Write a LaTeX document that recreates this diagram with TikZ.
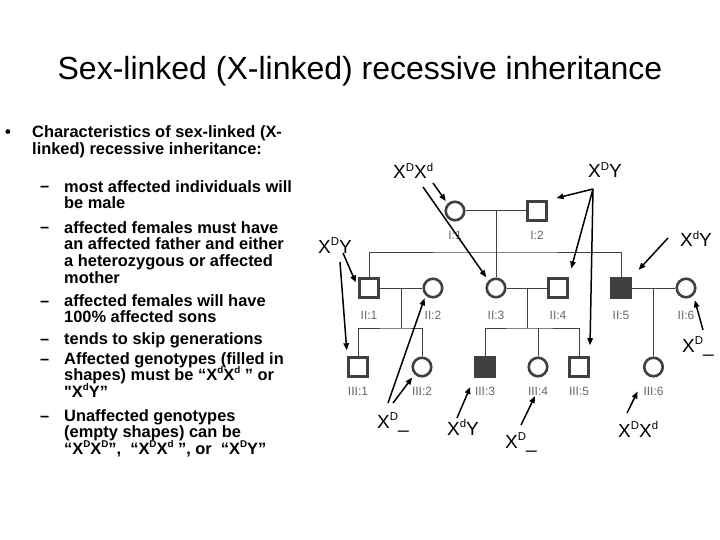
\documentclass[tikz,border=0pt]{standalone}
\usepackage{fontspec}
\setmainfont{Liberation Sans}
\newfontfamily\qfont{Liberation Sans}[Ligatures=Common]
\usepackage{tikz}
\usetikzlibrary{positioning, arrows.meta, calc}

% superscript allele letter
\newcommand{\gsup}[1]{\raisebox{0.42em}{\scalebox{0.6}{#1}}}
\newcommand{\bodyfont}{\fontsize{16.4}{16.8}\selectfont\bfseries\lineskiplimit=-100pt\relax}

\begin{document}
\begin{tikzpicture}[
    x=1pt, y=-1pt,
    >={Triangle[length=7pt, width=5.5pt]},
    ink/.style={draw=black!75, line width=2.6pt},
    male/.style={ink, rectangle, minimum size=19pt, inner sep=0pt},
    fem/.style={ink, circle, minimum size=18.5pt, inner sep=0pt},
    aff/.style={male, fill=black!75},
    pline/.style={draw=black!75, line width=1pt},
    plab/.style={font=\fontsize{12}{12}\selectfont, text=black!60, inner sep=0pt},
    geno/.style={font=\fontsize{19}{19}\selectfont, inner sep=0pt, anchor=base west},
    arr/.style={->, line width=1.5pt, black},
    title/.style={font=\fontsize{32}{32}\selectfont, inner sep=0pt},
    body/.style={font=\bodyfont, inner sep=0pt, align=left, anchor=base west},
]
\path[fill=white, use as bounding box] (0,0) rectangle (720,540);

% Title
\node[title, anchor=base] (ttl) at (360,80) {Sex-linked (X-linked) recessive inheritance};

% Bullet text (placed by the baseline of the last line)
\node[body] (bul) at (5,138) {•};
\node[body] (chr) at (32,154.8) {Characteristics of sex-linked (X-\\linked) recessive inheritance:};

\node[body] (d1) at (40,192) {–};
\node[body] (m1) at (64,208.8) {most affected individuals will\\be male};
\node[body] (d2) at (40,233) {–};
\node[body] (m2) at (64,283.4) {affected females must have\\an affected father and either\\a heterozygous or affected\\mother};
\node[body] (d3) at (40,306) {–};
\node[body] (m3) at (64,322.8) {affected females will have\\100\% affected sons};
\node[body] (d4) at (40,344) {–};
\node[body] (m4) at (64,344) {tends to skip generations};
\node[body] (d5) at (40,364) {–};
\node[body] (m5) at (64,397.6) {Affected genotypes (filled in\\shapes) must be “X\gsup{d}X\gsup{d} ” or\\{\qfont"}X\gsup{d}Y”};
\node[body] (d6) at (40,421) {–};
\node[body] (m6) at (64,454.6) {Unaffected genotypes\\(empty shapes) can be\\“X\gsup{D}X\gsup{D}”,\ \ “X\gsup{D}X\gsup{d} ”, or\ \ “X\gsup{D}Y”};

% Generation I
\node[fem] (i1) at (455,211) {};
\node[male] (i2) at (537,211) {};

% Generation II
\node[male] (ii1) at (369,288) {};
\node[fem] (ii2) at (433,288) {};
\node[fem] (ii3) at (496,288) {};
\node[male] (ii4) at (558,288) {};
\node[aff] (ii5) at (621,288) {};
\node[fem] (ii6) at (686,288) {};

% Generation III
\node[male] (iii1) at (358,367) {};
\node[fem] (iii2) at (422,367) {};
\node[aff] (iii3) at (485,367) {};
\node[fem] (iii4) at (538,367) {};
\node[male] (iii5) at (579,367) {};
\node[fem] (iii6) at ($(ii5)!0.5!(ii6) + (0,79)$) {};

% Pedigree lines
\draw[pline] (i1) -- (i2);
\draw[pline] ($(i1)!0.5!(i2)$) -- (ii3);
\coordinate (sib1) at (496,252);
\draw[pline] (ii1) |- (sib1) -| (ii5);

\draw[pline] (ii1) -- (ii2);
\draw[pline] ($(ii1)!0.5!(ii2)$) -- ++(0,40) coordinate (sib2);
\draw[pline] (iii1) |- (sib2) -| (iii2);

\draw[pline] (ii3) -- (ii4);
\draw[pline] ($(ii3)!0.5!(ii4)$) -- ++(0,40) coordinate (sib3);
\draw[pline] (iii3) |- (sib3) -| (iii5);
\draw[pline] (iii4) -- (iii4 |- sib3);

\draw[pline] (ii5) -- (ii6);
\draw[pline] ($(ii5)!0.5!(ii6)$) -- (iii6);

% Individual labels
\node[plab, below=9.5pt of i1] (li1) {I:1};
\node[plab, below=9.5pt of i2] (li2) {I:2};
\foreach \n/\t in {ii1/II:1, ii2/II:2, ii3/II:3, ii4/II:4, ii5/II:5, ii6/II:6}
  \node[plab, below=12pt of \n] (l\n) {\t};
\foreach \n/\t in {iii1/III:1, iii2/III:2, iii3/III:3, iii4/III:4, iii5/III:5, iii6/III:6}
  \node[plab, below=9pt of \n] (l\n) {\t};

% Genotypes
\node[geno] (gmom) at (393,179) {X\gsup{D}X\gsup{d}};
\node[geno] (gdad) at (588,178) {X\gsup{D}Y};
\node[geno] (gii1) at (318,253) {X\gsup{D}Y};
\node[geno] (gii5) at (680,247) {X\gsup{d}Y};
\node[geno] (gii6) at (682,352) {X\gsup{D}\_};
\node[geno] (giii1) at (377,428) {X\gsup{D}\_};
\node[geno] (giii3) at (447,435) {X\gsup{d}Y};
\node[geno] (giii4) at (505,448) {X\gsup{D}\_};
\node[geno] (giii6) at (618,437) {X\gsup{D}X\gsup{d}};

% Arrow tails
\coordinate (tmom1) at (433,183);
\coordinate (tmom2) at (423,187);
\coordinate (tdad) at (593,189);
\coordinate (tii1a) at (343,253);
\coordinate (tii1b) at (340,262);
\coordinate (tii5) at (668,238);
\coordinate (tii6) at (703,330);
\coordinate (tiii1a) at (388,403);
\coordinate (tiii1b) at (393,403);
\coordinate (tiii3) at (457,418);
\coordinate (tiii4) at (521,425);
\coordinate (tiii6) at (627,413);

% Arrows
\draw[arr, shorten >=3pt] (tmom1) -- (i1.north west);
\draw[arr, shorten >=4pt] (tmom2) -- (ii3.north west);
\draw[arr, shorten >=9pt] (tdad) -- (i2.north east);
\draw[arr, shorten >=9pt] (tdad) -- (ii4.north east);
\draw[arr, shorten >=11pt] (tdad) -- (iii5.north east);
\draw[arr, shorten >=6pt] (tii1a) -- (ii1.west);
\draw[arr, shorten >=6pt] (tii1b) -- (iii1.north west);
\draw[arr, shorten >=10pt] (tii5) -- (ii5.north east);
\draw[arr, shorten >=5pt] (tii6) -- (ii6.south east);
\draw[arr, shorten >=3pt] (tiii1a) -- (ii2.south west);
\draw[arr, shorten >=4pt] (tiii1b) -- (iii2.south west);
\draw[arr, shorten >=10pt] (tiii3) -- (iii3.south west);
\draw[arr, shorten >=24pt] (tiii4) -- (iii4.south east);
\draw[arr, shorten >=19pt] (tiii6) -- (iii6.south west);

\end{tikzpicture}
\end{document}
